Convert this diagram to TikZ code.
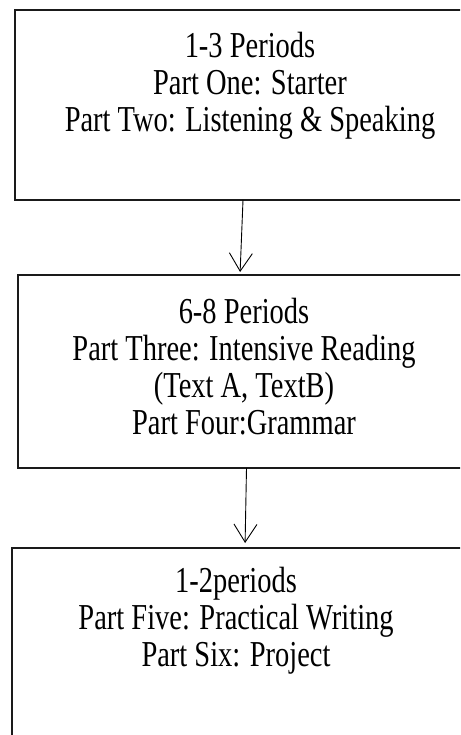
\documentclass[tikz,border=0pt]{standalone}
\usepackage{fontspec}
\setmainfont{Liberation Serif}[FakeStretch=0.78]
\usetikzlibrary{arrows.meta}
\definecolor{c1a1a1a}{RGB}{26,26,26}

\tikzset{
  stagebox/.style={draw=c1a1a1a, line width=1.7pt, anchor=north west,
    minimum width=470pt},
  stagetext/.style={anchor=north, align=center,
    font=\fontsize{36.5}{37}\selectfont},
  flow/.style={draw=black, line width=0.9pt,
    -{Straight Barb[length=18pt,width=23pt,line width=0.9pt]}}
}

\begin{document}
\begin{tikzpicture}[y=1pt,x=1pt,yscale=-1, inner sep=0pt, outer sep=0pt]
  \clip (0,0) rectangle (460,735);
  \fill[white] (0,0) rectangle (460,735);

  % boxes
  \node[stagebox, minimum height=190pt] (box1) at (15,10) {};
  \node[stagebox, minimum height=193pt] (box2) at (18,275) {};
  \node[stagebox, minimum height=220pt] (box3) at (12,548) {};

  % texts
  \node[stagetext] (text1) at (250,32)
    {1-3 Periods\\Part One: Starter\\Part Two: Listening \& Speaking};
  \node[stagetext] (text2) at (244,298)
    {6-8 Periods\\Part Three: Intensive Reading\\(Text A, TextB)\\Part Four:Grammar};
  \node[stagetext] (text3) at (236,567)
    {1-2periods\\Part Five: Practical Writing\\Part Six: Project};

  % arrows
  \draw[flow, shorten >=3pt] ([xshift=228pt]box1.south west) -- ([xshift=222pt]box2.north west);
  \draw[flow, shorten >=5pt] ([xshift=228.5pt]box2.south west) -- ([xshift=233pt]box3.north west);
\end{tikzpicture}
\end{document}
